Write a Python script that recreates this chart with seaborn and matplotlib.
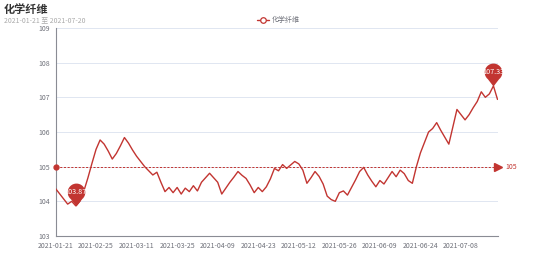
import numpy as np
import pandas as pd
import matplotlib
matplotlib.use("Agg")
import matplotlib.pyplot as plt
from matplotlib.path import Path
from matplotlib.lines import Line2D
import seaborn as sns

# ---------------- data ----------------
title = "化学纤维"
subtitle = "2021-01-21 至 2021-07-20"
series_name = "化学纤维"
values = [
    104.37, 104.22, 104.07, 103.92, 104.00, 103.87, 104.00, 104.30, 104.68, 105.10,
    105.50, 105.77, 105.65, 105.45, 105.22, 105.38, 105.60, 105.84, 105.68, 105.48,
    105.30, 105.15, 105.00, 104.88, 104.76, 104.84, 104.55, 104.28, 104.40, 104.25,
    104.40, 104.21, 104.38, 104.28, 104.45, 104.30, 104.55, 104.68, 104.81, 104.68,
    104.55, 104.21, 104.38, 104.55, 104.70, 104.86, 104.75, 104.66, 104.47, 104.25,
    104.40, 104.28, 104.42, 104.65, 104.95, 104.88, 105.06, 104.95, 105.05, 105.15,
    105.08, 104.90, 104.52, 104.68, 104.86, 104.72, 104.50, 104.15, 104.05, 104.00,
    104.25, 104.30, 104.18, 104.40, 104.62, 104.86, 104.98, 104.76, 104.58, 104.42,
    104.60, 104.50, 104.68, 104.86, 104.71, 104.90, 104.80, 104.60, 104.52, 105.00,
    105.40, 105.70, 106.00, 106.10, 106.27, 106.05, 105.85, 105.65, 106.15, 106.65,
    106.50, 106.35, 106.50, 106.70, 106.88, 107.16, 107.00, 107.10, 107.33, 106.94,
]
tick_labels = ["2021-01-21", "2021-02-25", "2021-03-11", "2021-03-25", "2021-04-09",
               "2021-04-23", "2021-05-12", "2021-05-26", "2021-06-09", "2021-06-24",
               "2021-07-08"]
y_ticks = [103, 104, 105, 106, 107, 108, 109]
mark_line_value = 105

# ---------------- style ----------------
sns.set_style("white")
plt.rcParams['font.family'] = ['Noto Sans CJK SC', 'DejaVu Sans']

RED = "#c23531"
AXIS = "#6E7079"
GRID = "#E0E6F1"

df = pd.DataFrame({"idx": np.arange(len(values)), "value": values})

fig = plt.figure(figsize=(5.54, 2.65), dpi=100)
ax = fig.add_axes([55.5 / 554, 1 - 236 / 265, (497.5 - 55.5) / 554, (236 - 28) / 265])

sns.lineplot(data=df, x="idx", y="value", ax=ax, color=RED, lw=1.0, zorder=3)

n = len(values)
ax.set_xlim(0, n - 1)
ax.set_ylim(y_ticks[0], y_ticks[-1])
ax.set_yticks(y_ticks)
ax.set_yticklabels([str(v) for v in y_ticks])
ax.set_xticks(list(range(0, n, 10))[:len(tick_labels)])
ax.set_xticklabels(tick_labels)
ax.set_xlabel("")
ax.set_ylabel("")

for s in ["top", "right"]:
    ax.spines[s].set_visible(False)
for s in ["left", "bottom"]:
    ax.spines[s].set_color("#8a8c94")
    ax.spines[s].set_linewidth(0.8)
ax.tick_params(axis="both", colors="#8a8c94", labelsize=5, length=2.5, width=0.7, pad=1.5)
for t in ax.get_xticklabels() + ax.get_yticklabels():
    t.set_color(AXIS)

ax.yaxis.grid(True, color=GRID, lw=0.7)
ax.xaxis.grid(False)
ax.set_axisbelow(True)

# ---- mark line at 105 ----
ax.axhline(mark_line_value, color=RED, lw=0.7, ls=(0, (2.2, 1.6)), zorder=2)
ax.plot([0], [mark_line_value], marker="o", ms=3.5, color=RED, clip_on=False, zorder=4)
ax.plot([n - 1], [mark_line_value], marker=">", ms=5.5, color=RED, clip_on=False, zorder=4)
ax.annotate(str(mark_line_value), xy=(n - 1, mark_line_value), xytext=(6, 0),
            textcoords="offset points", va="center", ha="left", fontsize=5, color=RED)

# ---- pin markers for max / min ----
d = 1.6
arc = Path.arc(-50, 230)
verts = list(arc.vertices * 1.0 + np.array([0, d]))
codes = list(arc.codes)
verts += [(0, 0), (0, 0)]
codes += [Path.LINETO, Path.CLOSEPOLY]
pin = Path(np.array(verts), codes)
ms = 33
bulb_off = d * ms * 0.5 / (d + 1)

imax = int(np.argmax(values))
imin = int(np.argmin(values))
for i in (imax, imin):
    ax.plot([i], [values[i]], marker=pin, ms=ms, color=RED, mec=RED, mew=0,
            clip_on=False, zorder=5)
    ax.annotate(f"{values[i]:.2f}", xy=(i, values[i]), xytext=(0, bulb_off),
                textcoords="offset points", ha="center", va="center",
                fontsize=5.2, color="white", zorder=6)

# ---- title / subtitle ----
fig.text(4 / 554, 1 - 9 / 265, title, fontsize=8, fontweight="bold", color="#333333",
         ha="left", va="center")
fig.text(4 / 554, 1 - 20 / 265, subtitle, fontsize=5, color="#aaaaaa",
         ha="left", va="center")

# ---- legend ----
ly = 1 - 20 / 265
fig.add_artist(Line2D([257 / 554, 269 / 554], [ly, ly], color=RED, lw=1.0,
                      transform=fig.transFigure))
fig.add_artist(Line2D([263 / 554], [ly], marker="o", ms=4, mfc="white", mec=RED, mew=0.9,
                      transform=fig.transFigure))
fig.text(272 / 554, ly, series_name, fontsize=5, color=AXIS, ha="left", va="center")

fig.savefig("out.png", dpi=100)
